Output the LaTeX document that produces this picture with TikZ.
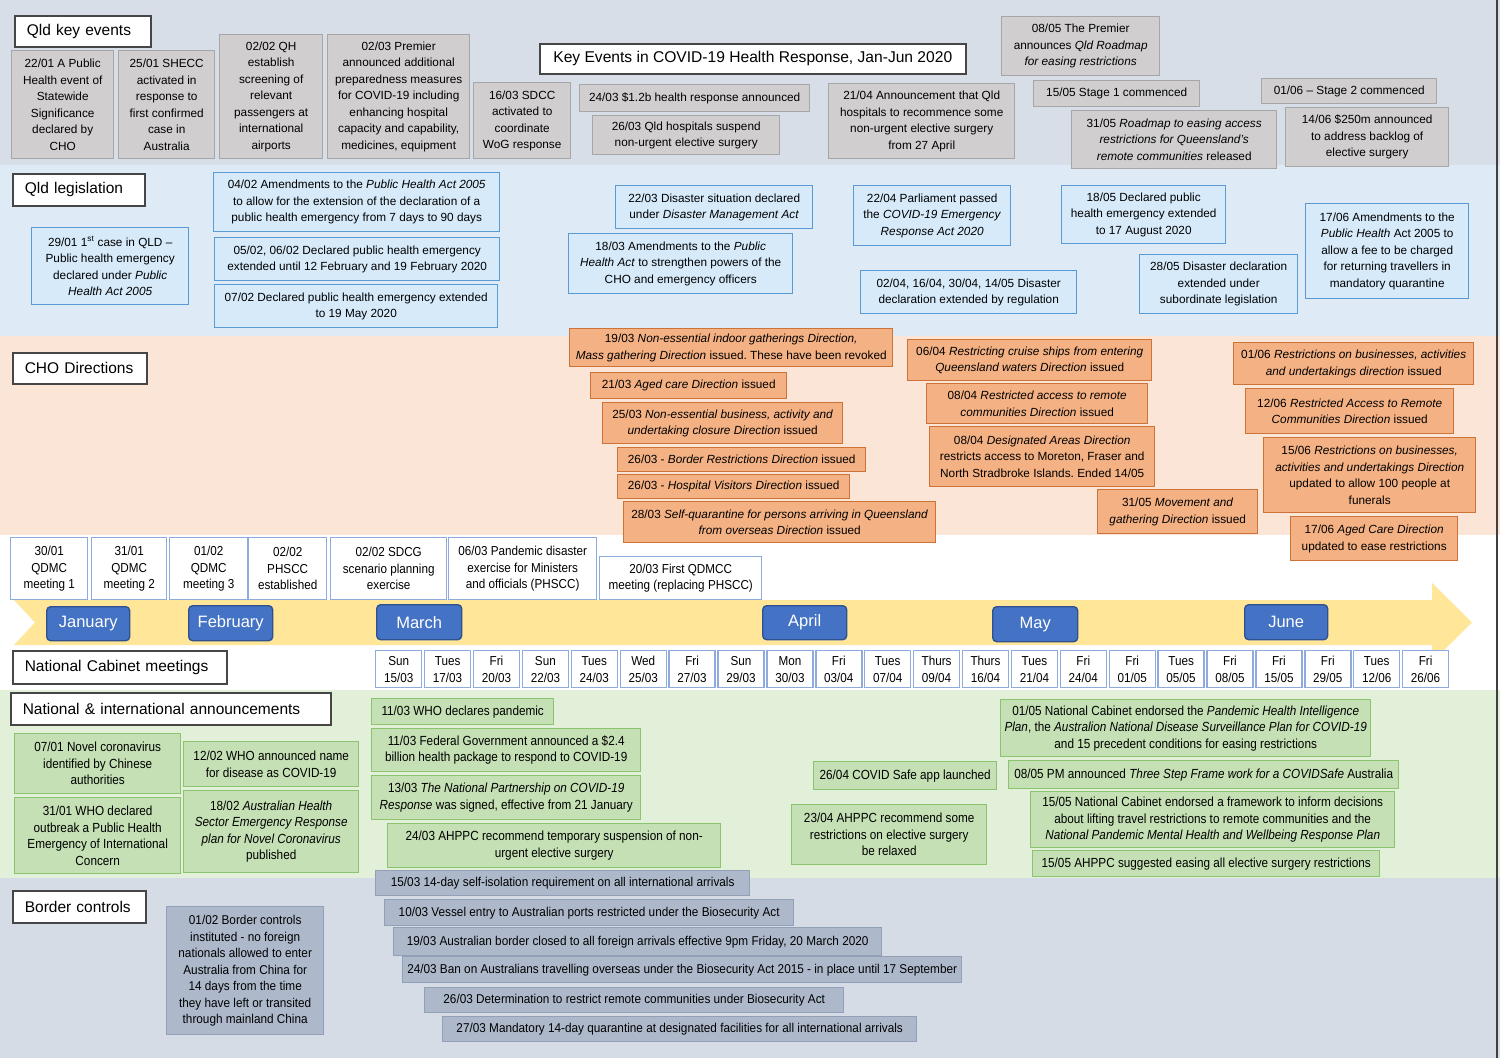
\documentclass[tikz,border=0pt]{standalone}
\usepackage{fontspec}
\setmainfont{Liberation Sans}
\newfontfamily\narrowfont[FakeStretch=0.90]{Liberation Sans}
\newfontfamily\greenfont[FakeStretch=0.89]{Liberation Sans}
\newfontfamily\bordfont[FakeStretch=0.92]{Liberation Sans}
\frenchspacing
\definecolor{bandA}{RGB}{216,222,232}
\definecolor{bandB}{RGB}{222,235,247}
\definecolor{bandC}{RGB}{251,229,214}
\definecolor{bandE}{RGB}{226,240,217}
\definecolor{bandF}{RGB}{214,220,229}
\definecolor{greyF}{RGB}{208,206,206}
\definecolor{greyD}{RGB}{166,166,166}
\definecolor{blueF}{RGB}{214,234,250}
\definecolor{blueD}{RGB}{91,155,213}
\definecolor{oranF}{RGB}{244,177,131}
\definecolor{oranD}{RGB}{205,115,55}
\definecolor{whiteD}{RGB}{143,170,220}
\definecolor{greenF}{RGB}{197,224,180}
\definecolor{greenD}{RGB}{140,195,110}
\definecolor{bordF}{RGB}{173,185,202}
\definecolor{bordD}{RGB}{145,160,182}
\definecolor{monthF}{RGB}{68,114,196}
\definecolor{monthD}{RGB}{47,82,143}
\definecolor{arrowF}{RGB}{255,230,153}
\definecolor{headD}{RGB}{70,70,70}
\newcommand{\mkbox}[7]{\node[#1,anchor=north west,minimum width=#5pt,minimum height=#6pt] (#2) at (#3,#4) {#7};}
\newcommand{\mkhead}[6]{\node[headbox,anchor=north west,text width=#5pt-24pt,minimum height=#6pt] (#1) at (#3,#4) {\mbox{#2}};}
\tikzset{
  basebox/.style={rectangle,align=center,inner xsep=2pt,inner ysep=1pt,line width=1.4pt,font=\fontsize{11.8}{16.5}\selectfont},
  greybox/.style={basebox,fill=greyF,draw=greyD},
  bluebox/.style={basebox,fill=blueF,draw=blueD},
  oranbox/.style={basebox,fill=oranF,draw=oranD},
  whitebox/.style={basebox,fill=white,draw=whiteD,font=\narrowfont\fontsize{13}{16.5}\selectfont},
  greenbox/.style={basebox,fill=greenF,draw=greenD,font=\greenfont\fontsize{13.2}{16.5}\selectfont},
  bordbox/.style={basebox,fill=bordF,draw=bordD,font=\bordfont\fontsize{12.8}{16.5}\selectfont},
  headbox/.style={rectangle,align=left,inner xsep=12pt,inner ysep=1pt,fill=white,draw=headD,line width=1.6pt,font=\fontsize{15.5}{19}\selectfont},
  monthbox/.style={rectangle,rounded corners=4pt,fill=monthF,draw=monthD,line width=1.4pt,text=white,font=\fontsize{16.5}{19}\selectfont,anchor=north west},
  ncbox/.style={rectangle,align=center,fill=white,draw=whiteD,line width=1.4pt,inner sep=1pt,anchor=north west,minimum width=46pt,minimum height=37pt,font=\narrowfont\fontsize{13}{17}\selectfont}
}
\begin{document}
\begin{tikzpicture}[x=1pt,y=-1pt]
\useasboundingbox (0,0) rectangle (1500,1058);
% bands
\fill[bandA] (0,0) rectangle (1500,165);
\fill[bandB] (0,165) rectangle (1500,336);
\fill[bandC] (0,336) rectangle (1500,535);
\fill[white] (0,535) rectangle (1500,690);
\fill[bandE] (0,690) rectangle (1500,878);
\fill[bandF] (0,878) rectangle (1500,1058);
\draw[line width=1.5pt,black!75] (1497,0) -- (1497,1058);

% headers
\mkhead{hqld}{Qld key events}{14}{15}{136}{31}
\mkhead{hleg}{Qld legislation}{12}{173}{132}{32}
\mkhead{hcho}{CHO Directions}{12}{352}{134}{31}
\mkhead{hnc}{National Cabinet meetings}{12}{650}{214}{33}
\mkhead{hnat}{National \& international announcements}{10}{692}{320}{32}
\mkhead{hbor}{Border controls}{12}{890}{133}{32}
\node[headbox,align=center,font=\fontsize{15.6}{19}\selectfont,anchor=north west,minimum width=426pt,minimum height=30pt] (title) at (539,43) {Key Events in COVID-19 Health Response, Jan-Jun 2020};

% Qld key events
\mkbox{greybox}{g1}{11}{50}{102}{108}{22/01 A Public\\Health event of\\Statewide\\Significance\\declared by\\CHO}
\mkbox{greybox}{g2}{118}{50}{96}{108}{25/01 SHECC\\activated in\\response to\\first confirmed\\case in\\Australia}
\mkbox{greybox}{g3}{219}{34}{103}{124}{02/02 QH\\establish\\screening of\\relevant\\passengers at\\international\\airports}
\mkbox{greybox}{g4}{327}{34}{142}{124}{02/03 Premier\\announced additional\\preparedness measures\\for COVID-19 including\\enhancing hospital\\capacity and capability,\\medicines, equipment}
\mkbox{greybox}{g5}{473}{82}{97}{76}{16/03 SDCC\\activated to\\coordinate\\WoG response}
\mkbox{greybox}{g6}{579}{84}{230}{27}{24/03 \$1.2b health response announced}
\mkbox{greybox}{g7}{592}{115}{187}{39}{26/03 Qld hospitals suspend\\non-urgent elective surgery}
\mkbox{greybox}{g8}{828}{83}{186}{75}{21/04 Announcement that Qld\\hospitals to recommence some\\non-urgent elective surgery\\from 27 April}
\mkbox{greybox}{g9}{1001}{16}{158}{59}{08/05 The Premier\\announces \textit{Qld Roadmap}\\\textit{for easing restrictions}}
\mkbox{greybox}{g10}{1033}{80}{166}{26}{15/05 Stage 1 commenced}
\mkbox{greybox}{g11}{1071}{110}{205}{58}{31/05 \textit{Roadmap to easing access}\\\textit{restrictions for Queensland's}\\\textit{remote communities} released}
\mkbox{greybox}{g12}{1261}{78}{175}{25}{01/06 -- Stage 2 commenced}
\mkbox{greybox}{g13}{1285}{107}{163}{59}{14/06 \$250m announced\\to address backlog of\\elective surgery}

% Qld legislation
\mkbox{bluebox}{b1}{31}{227}{157}{77}{29/01 1\textsuperscript{st} case in QLD --\\Public health emergency\\declared under \textit{Public}\\\textit{Health Act 2005}}
\mkbox{bluebox}{b2}{213}{172}{286}{59}{04/02 Amendments to the \textit{Public Health Act 2005}\\to allow for the extension of the declaration of a\\public health emergency from 7 days to 90 days}
\mkbox{bluebox}{b3}{214}{237}{285}{43}{05/02, 06/02 Declared public health emergency\\extended until 12 February and 19 February 2020}
\mkbox{bluebox}{b4}{214}{284}{283}{43}{07/02 Declared public health emergency extended\\to 19 May 2020}
\mkbox{bluebox}{b5}{615}{185}{197}{43}{22/03 Disaster situation declared\\under \textit{Disaster Management Act}}
\mkbox{bluebox}{b6}{568}{233}{224}{60}{18/03 Amendments to the \textit{Public}\\\textit{Health Act} to strengthen powers of the\\CHO and emergency officers}
\mkbox{bluebox}{b7}{853}{185}{157}{60}{22/04 Parliament passed\\the \textit{COVID-19 Emergency}\\\textit{Response Act 2020}}
\mkbox{bluebox}{b8}{860}{270}{216}{43}{02/04, 16/04, 30/04, 14/05 Disaster\\declaration extended by regulation}
\mkbox{bluebox}{b9}{1061}{185}{164}{58}{18/05 Declared public\\health emergency extended\\to 17 August 2020}
\mkbox{bluebox}{b10}{1139}{254}{158}{59}{28/05 Disaster declaration\\extended under\\subordinate legislation}
\mkbox{bluebox}{b11}{1305}{203}{163}{95}{17/06 Amendments to the\\\textit{Public Health} Act 2005 to\\allow a fee to be charged\\for returning travellers in\\mandatory quarantine}

% CHO Directions
\mkbox{oranbox}{o1}{569}{328}{323}{38}{19/03 \textit{Non-essential indoor gatherings Direction,}\\\textit{Mass gathering Direction} issued. These have been revoked}
\mkbox{oranbox}{o2}{590}{372}{196}{26}{21/03 \textit{Aged care Direction} issued}
\mkbox{oranbox}{o3}{602}{402}{240}{41}{25/03 \textit{Non-essential business, activity and}\\\textit{undertaking closure Direction} issued}
\mkbox{oranbox}{o4}{617}{447}{248}{24}{26/03 - \textit{Border Restrictions Direction} issued}
\mkbox{oranbox}{o5}{617}{474}{232}{24}{26/03 - \textit{Hospital Visitors Direction} issued}
\mkbox{oranbox}{o6}{623}{501}{312}{41}{28/03 \textit{Self-quarantine for persons arriving in Queensland}\\\textit{from overseas Direction} issued}
\mkbox{oranbox}{o7}{907}{339}{244}{41}{06/04 \textit{Restricting cruise ships from entering}\\\textit{Queensland waters Direction} issued}
\mkbox{oranbox}{o8}{926}{383}{221}{40}{08/04 \textit{Restricted access to remote}\\\textit{communities Direction} issued}
\mkbox{oranbox}{o9}{929}{426}{225}{60}{08/04 \textit{Designated Areas Direction}\\restricts access to Moreton, Fraser and\\North Stradbroke Islands. Ended 14/05}
\mkbox{oranbox}{o10}{1097}{489}{160}{44}{31/05 \textit{Movement and}\\\textit{gathering Direction} issued}
\mkbox{oranbox}{o11}{1233}{342}{240}{42}{01/06 \textit{Restrictions on businesses, activities}\\\textit{and undertakings direction} issued}
\mkbox{oranbox}{o12}{1245}{388}{208}{45}{12/06 \textit{Restricted Access to Remote}\\\textit{Communities Direction} issued}
\mkbox{oranbox}{o13}{1263}{437}{212}{75}{15/06 \textit{Restrictions on businesses,}\\\textit{activities and undertakings Direction}\\updated to allow 100 people at\\funerals}
\mkbox{oranbox}{o14}{1290}{516}{167}{44}{17/06 \textit{Aged Care Direction}\\updated to ease restrictions}

% timeline arrow
\fill[arrowF] (14,600) -- (1432,600) -- (1432,583) -- (1472,622.5) -- (1432,662) -- (1432,645) -- (14,645) -- (35,622.5) -- cycle;

% QDMC boxes
\mkbox{whitebox}{w1}{10}{537}{77}{62}{30/01\\QDMC\\meeting 1}
\mkbox{whitebox}{w2}{91}{537}{75}{62}{31/01\\QDMC\\meeting 2}
\mkbox{whitebox}{w3}{169}{537}{78}{62}{01/02\\QDMC\\meeting 3}
\mkbox{whitebox}{w4}{248}{537}{78}{62}{02/02\\PHSCC\\established}
\mkbox{whitebox}{w5}{330}{537}{116}{62}{02/02 SDCG\\scenario planning\\exercise}
\mkbox{whitebox}{w6}{448}{537}{148}{62}{06/03 Pandemic disaster\\exercise for Ministers\\and officials (PHSCC)}
\mkbox{whitebox}{w7}{599}{556}{162}{43}{20/03 First QDMCC\\meeting (replacing PHSCC)}

% months
\node[monthbox,minimum width=83pt,minimum height=34pt] (jan) at (46,606) {January};
\node[monthbox,minimum width=84pt,minimum height=35pt] (feb) at (188,605) {February};
\node[monthbox,minimum width=85pt,minimum height=35pt] (mar) at (376,604) {March};
\node[monthbox,minimum width=84pt,minimum height=34pt] (apr) at (762,605) {April};
\node[monthbox,minimum width=85pt,minimum height=35pt] (may) at (992,606) {May};
\node[monthbox,minimum width=83pt,minimum height=35pt] (jun) at (1244,604) {June};

% National Cabinet meeting dates
\foreach \dy/\dd/\mm [count=\i from 0] in {Sun/15/03,Tues/17/03,Fri/20/03,Sun/22/03,Tues/24/03,Wed/25/03,Fri/27/03,Sun/29/03,Mon/30/03,Fri/03/04,Tues/07/04,Thurs/09/04,Thurs/16/04,Tues/21/04,Fri/24/04,Fri/01/05,Tues/05/05,Fri/08/05,Fri/15/05,Fri/29/05,Tues/12/06,Fri/26/06}
  \node[ncbox] (nc\i) at ({375+\i*48.9},650) {\dy\\\dd/\mm};

% National & international
\mkbox{greenbox}{n1}{14}{733}{166}{60}{07/01 Novel coronavirus\\identified by Chinese\\authorities}
\mkbox{greenbox}{n2}{14}{797}{166}{76}{31/01 WHO declared\\outbreak a Public Health\\Emergency of International\\Concern}
\mkbox{greenbox}{n3}{183}{741}{175}{45}{12/02 WHO announced name\\for disease as COVID-19}
\mkbox{greenbox}{n4}{183}{790}{175}{82}{18/02 \textit{Australian Health}\\\textit{Sector Emergency Response}\\\textit{plan for Novel Coronavirus}\\published}
\mkbox{greenbox}{n5}{371}{698}{182}{26}{11/03 WHO declares pandemic}
\mkbox{greenbox}{n6}{371}{728}{269}{43}{11/03 Federal Government announced a \$2.4\\billion health package to respond to COVID-19}
\mkbox{greenbox}{n7}{371}{775}{269}{44}{13/03 \textit{The National Partnership on COVID-19}\\\textit{Response} was signed, effective from 21 January}
\mkbox{greenbox}{n8}{387}{823}{333}{44}{24/03 AHPPC recommend temporary suspension of non-\\urgent elective surgery}
\mkbox{greenbox}{n9}{813}{761}{183}{28}{26/04 COVID Safe app launched}
\mkbox{greenbox}{n10}{791}{804}{195}{60}{23/04 AHPPC recommend some\\restrictions on elective surgery\\be relaxed}
\mkbox{greenbox}{n11}{1000}{699}{370}{57}{01/05 National Cabinet endorsed the \textit{Pandemic Health Intelligence}\\\textit{Plan}, the \textit{Australion National Disease Surveillance Plan for COVID-19}\\and 15 precedent conditions for easing restrictions}
\mkbox{greenbox}{n12}{1008}{760}{390}{28}{08/05 PM announced \textit{Three Step Frame work for a COVIDSafe} Australia}
\mkbox{greenbox}{n13}{1030}{791}{364}{56}{15/05 National Cabinet endorsed a framework to inform decisions\\about lifting travel restrictions to remote communities and the\\\textit{National Pandemic Mental Health and Wellbeing Response Plan}}
\mkbox{greenbox}{n14}{1032}{850}{347}{26}{15/05 AHPPC suggested easing all elective surgery restrictions}

% Border controls
\mkbox{bordbox}{c1}{166}{906}{157}{128}{01/02 Border controls\\instituted - no foreign\\nationals allowed to enter\\Australia from China for\\14 days from the time\\they have left or transited\\through mainland China}
\mkbox{bordbox}{c2}{375}{870}{374}{25}{15/03 14-day self-isolation requirement on all international arrivals}
\mkbox{bordbox}{c3}{384}{899}{409}{26}{10/03 Vessel entry to Australian ports restricted under the Biosecurity Act}
\mkbox{bordbox}{c4}{393}{927}{488}{28}{19/03 Australian border closed to all foreign arrivals effective 9pm Friday, 20 March 2020}
\mkbox{bordbox}{c5}{402}{956}{559}{26}{24/03 Ban on Australians travelling overseas under the Biosecurity Act 2015 - in place until 17 September}
\mkbox{bordbox}{c6}{424}{987}{419}{25}{26/03 Determination to restrict remote communities under Biosecurity Act}
\mkbox{bordbox}{c7}{442}{1016}{474}{25}{27/03 Mandatory 14-day quarantine at designated facilities for all international arrivals}
\end{tikzpicture}
\end{document}
